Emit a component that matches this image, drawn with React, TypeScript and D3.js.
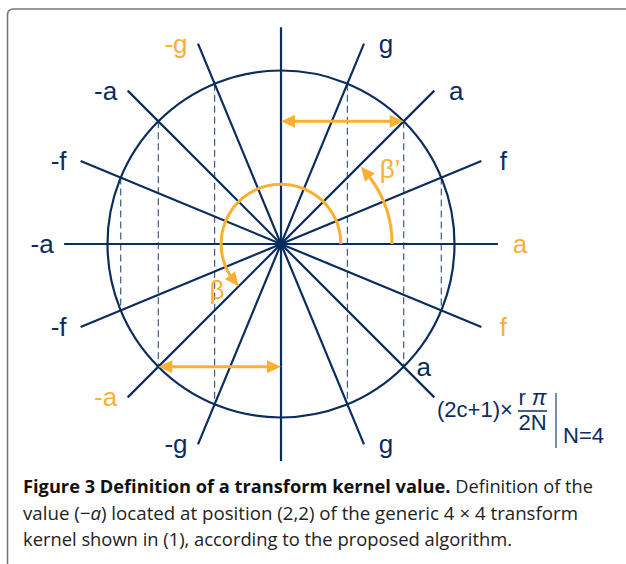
import * as d3 from "d3"

// directions of the lines through the centre (degrees, counter-clockwise from +x)
const lineAngles = [0, 22.5, 45, 67.5, 90, 112.5, 135, 157.5]
// chords dropped from the circle crossings
const chordAngles = [22.5, 45, 67.5, 112.5, 135, 157.5]
// labels at the line ends
const labelAngles = [0, 22.5, 45, 67.5, 112.5, 135, 157.5, 180, 202.5, 225, 247.5, 292.5, 315, 337.5]
const labelTexts = ["a", "f", "a", "g", "-g", "-a", "-f", "-a", "-f", "-a", "-g", "g", "a", "f"]
const labelHighlight = [true, false, false, false, true, false, false, false, false, true, false, false, false, true]
const labelOnCircle = [false, false, false, false, false, false, false, false, false, false, false, false, true, false]
// the two angle arrows: start, end (degrees), radius in circle units
const betaArc = { a0: 0, a1: 225, r: 0.345 }
const betaPrimeArc = { a0: 0, a1: 44, r: 0.64 }

const captionBold = "Figure 3 Definition of a transform kernel value."
const captionLines = [
  " Definition of the",
  "value (",
  "located at position (2,2) of the generic 4 × 4 transform",
  "kernel shown in (1), according to the proposed algorithm.",
]

const W = 626
const H = 564
const NAVY = "#0b2d5e"
const ORANGE = "#fbb034"
const cx = 281
const cy = 244
const R = 173.5
const EXT = 1.25

const x = d3.scaleLinear().domain([-1, 1]).range([cx - R, cx + R])
const y = d3.scaleLinear().domain([-1, 1]).range([cy + R, cy - R])
const rad = (d: number) => (d * Math.PI) / 180

function polar(deg: number, r: number): [number, number] {
  return [x(r * Math.cos(rad(deg))), y(r * Math.sin(rad(deg)))]
}

function head(tip: [number, number], from: [number, number], w = 6.5) {
  const dx = tip[0] - from[0]
  const dy = tip[1] - from[1]
  const len = Math.hypot(dx, dy)
  const ux = dx / len
  const uy = dy / len
  const L = 14
  const bx = tip[0] - ux * L
  const by = tip[1] - uy * L
  return `${tip[0]},${tip[1]} ${bx - uy * w},${by + ux * w} ${bx + uy * w},${by - ux * w}`
}

function CurvedArrow({ a0, a1, r }: { a0: number; a1: number; r: number }) {
  const pr = x(r) - x(0)
  const back = (14 / pr) * (180 / Math.PI)
  const p = d3.path()
  const s = polar(a0, r)
  p.moveTo(s[0], s[1])
  p.arc(cx, cy, pr, -rad(a0), -rad(a1 - back), true)
  const tip = polar(a1, r)
  const base = polar(a1 - back, r)
  return (
    <g>
      <path d={p.toString()} fill="none" stroke={ORANGE} strokeWidth={3} />
      <polygon points={head(tip, base)} fill={ORANGE} />
    </g>
  )
}

function StraightArrow({ p0, p1 }: { p0: [number, number]; p1: [number, number] }) {
  const dx = p1[0] - p0[0]
  const len = Math.abs(dx)
  const s = Math.sign(dx)
  return (
    <g>
      <line x1={p0[0] + s * 12} y1={p0[1]} x2={p1[0] - s * 12} y2={p1[1]} stroke={ORANGE} strokeWidth={3} />
      <polygon points={head(p0, [p0[0] + s * len, p0[1]])} fill={ORANGE} />
      <polygon points={head(p1, [p1[0] - s * len, p1[1]])} fill={ORANGE} />
    </g>
  )
}

export default function App() {
  const topA = polar(45, 1)
  const botA = polar(225, 1)
  return (
    <svg width={W} height={H} style={{ position: "absolute", left: 0, top: 0 }} fontFamily="'Liberation Sans', Arial, sans-serif">
      <rect width={W} height={H} fill="#fff" />
      <path d="M7.5,564 V15 Q7.5,9 13.5,9 H626" fill="none" stroke="#777" strokeWidth={1.6} />

      {chordAngles.map((a) => {
        const t = polar(a, 1)
        const b = polar(-a, 1)
        return (
          <line key={a} x1={t[0]} y1={t[1]} x2={b[0]} y2={b[1]} stroke="#3f5c85" strokeWidth={1.2} strokeDasharray="7,4" />
        )
      })}

      <circle cx={x(0)} cy={y(0)} r={R} fill="none" stroke={NAVY} strokeWidth={2.2} />

      {lineAngles.map((a) => {
        const p = polar(a, EXT)
        const q = polar(a + 180, EXT)
        return <line key={a} x1={p[0]} y1={p[1]} x2={q[0]} y2={q[1]} stroke={NAVY} strokeWidth={2.2} />
      })}

      <StraightArrow p0={[x(0), topA[1]]} p1={topA} />
      <StraightArrow p0={botA} p1={[x(0), botA[1]]} />
      <CurvedArrow {...betaArc} />
      <CurvedArrow {...betaPrimeArc} />

      <g fontSize={26} textAnchor="middle">
        {labelAngles.map((a, i) => {
          const p = polar(a, labelOnCircle[i] ? 1 : EXT)
          const side = Math.cos(rad(a)) >= 0 ? 1 : -1
          return (
            <text key={i} x={p[0] + side * (labelOnCircle[i] ? 20 : 22)} y={p[1] + 9} fill={labelHighlight[i] ? ORANGE : NAVY}>
              {labelTexts[i]}
            </text>
          )
        })}
        <text x={217} y={299} fill={ORANGE}>β</text>
        <text x={390} y={178} fill={ORANGE}>β’</text>
      </g>

      <g fill={NAVY} fontSize={22}>
        <text x={437} y={417}>(2c+1)×</text>
        <text x={532.5} y={405} textAnchor="middle">
          r <tspan fontStyle="italic">π</tspan>
        </text>
        <line x1={518} x2={547} y1={411} y2={411} stroke={NAVY} strokeWidth={1.5} />
        <text x={532.5} y={430} textAnchor="middle">2N</text>
        <line x1={556} x2={556} y1={393} y2={448} stroke="#4b6a93" strokeWidth={1.5} />
        <text x={563} y={443}>N=4</text>
      </g>

      <g fontFamily="'Open Sans', 'Noto Sans', sans-serif" fontSize={18.5} fill="#222">
        <text x={23} y={493} textLength={570} lengthAdjust="spacingAndGlyphs">
          <tspan fontWeight="bold" fill="#111">{captionBold}</tspan>
          <tspan>{captionLines[0]}</tspan>
        </text>
        <text x={23} y={520} textLength={555} lengthAdjust="spacingAndGlyphs">
          {captionLines[1]}−<tspan fontStyle="italic">a</tspan>) {captionLines[2]}
        </text>
        <text x={23} y={546} textLength={489} lengthAdjust="spacingAndGlyphs">
          {captionLines[3]}
        </text>
      </g>
    </svg>
  )
}
